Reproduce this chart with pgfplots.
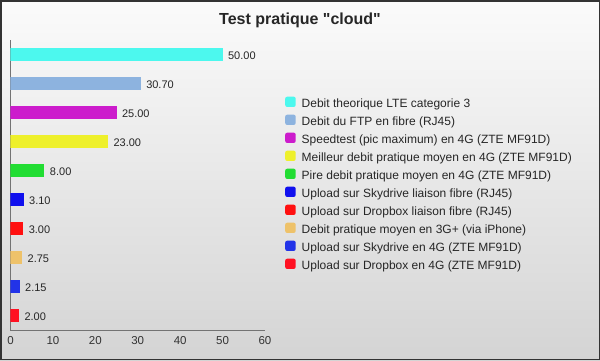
\documentclass[border=0pt]{standalone}
\usepackage{fontspec}
\setmainfont{Liberation Sans}
\newfontfamily\titlefont{Liberation Sans}[Ligatures=TeXOff]
\usepackage{pgfplots}
\pgfplotsset{compat=1.18}
\definecolor{bgtop}{HTML}{FBFBFB}
\definecolor{bgbot}{HTML}{D4D4D4}
\definecolor{frame}{HTML}{333333}
\definecolor{c1}{HTML}{4CF8EE}
\definecolor{c2}{HTML}{8DB3DF}
\definecolor{c3}{HTML}{CC1CCC}
\definecolor{c4}{HTML}{EEF02B}
\definecolor{c5}{HTML}{22DD33}
\definecolor{c6}{HTML}{1010EE}
\definecolor{c7}{HTML}{FF1010}
\definecolor{c8}{HTML}{EEC26A}
\definecolor{c9}{HTML}{2233E8}
\definecolor{c10}{HTML}{FF1122}
\begin{document}
\begin{tikzpicture}[x=1pt,y=1pt]
\shade[top color=bgtop,bottom color=bgbot] (0,0) rectangle (600,360);
\draw[color=frame,line width=1.5pt] (0.75,0.75) rectangle (599.25,359.25);
\node[font=\titlefont\bfseries\fontsize{16}{19}\selectfont,text=black!85] at (300,340) {Test pratique "cloud"};
\begin{axis}[
  at={(10.5pt,30pt)}, anchor=south west,
  scale only axis, width=254.5pt, height=290pt,
  xbar, bar width=13pt, bar shift=0pt,
  xmin=0, xmax=60, ymin=-0.5, ymax=9.5,
  axis x line*=bottom, axis y line*=left,
  axis line style={color=black!55, line width=0.8pt},
  ytick=\empty,
  xtick={0,10,...,60},
  major tick length=0pt,
  /pgf/number format/assume math mode=true,
  tick label style={font=\fontsize{11.5}{13}\selectfont, text=black!80},
  xticklabel style={yshift=-2.5pt},
  point meta=x,
  nodes near coords={\pgfmathprintnumber[fixed,fixed zerofill,precision=2,assume math mode=true]{\pgfplotspointmeta}},
  every node near coord/.append style={font=\fontsize{11}{13}\selectfont, text=black!85, xshift=2pt, yshift=-1pt},
  legend image code/.code={\fill[#1,rounded corners=2pt] (0pt,0.5pt) rectangle (10.5pt,10.8pt);},
  legend cell align=left,
  legend style={draw=none, fill=none, at={(axis description cs:1.0786,0.806)}, anchor=north west,
    inner sep=0pt, row sep=4pt, column sep=6pt,
    font=\fontsize{12}{14}\selectfont,
    cells={anchor=base west},
    nodes={inner sep=0pt, text height=11pt, text depth=3pt, text=black!85}},
]
\addplot[draw=none, fill=c1] coordinates {(50,9)};
\addlegendentry{Debit theorique LTE categorie 3}
\addplot[draw=none, fill=c2] coordinates {(30.7,8)};
\addlegendentry{Debit du FTP en fibre (RJ45)}
\addplot[draw=none, fill=c3] coordinates {(25,7)};
\addlegendentry{Speedtest (pic maximum) en 4G (ZTE MF91D)}
\addplot[draw=none, fill=c4] coordinates {(23,6)};
\addlegendentry{Meilleur debit pratique moyen en 4G (ZTE MF91D)}
\addplot[draw=none, fill=c5] coordinates {(8,5)};
\addlegendentry{Pire debit pratique moyen en 4G (ZTE MF91D)}
\addplot[draw=none, fill=c6] coordinates {(3.1,4)};
\addlegendentry{Upload sur Skydrive liaison fibre (RJ45)}
\addplot[draw=none, fill=c7] coordinates {(3,3)};
\addlegendentry{Upload sur Dropbox liaison fibre (RJ45)}
\addplot[draw=none, fill=c8] coordinates {(2.75,2)};
\addlegendentry{Debit pratique moyen en 3G+ (via iPhone)}
\addplot[draw=none, fill=c9] coordinates {(2.15,1)};
\addlegendentry{Upload sur Skydrive en 4G (ZTE MF91D)}
\addplot[draw=none, fill=c10] coordinates {(2,0)};
\addlegendentry{Upload sur Dropbox en 4G (ZTE MF91D)}
\end{axis}
\end{tikzpicture}
\end{document}
